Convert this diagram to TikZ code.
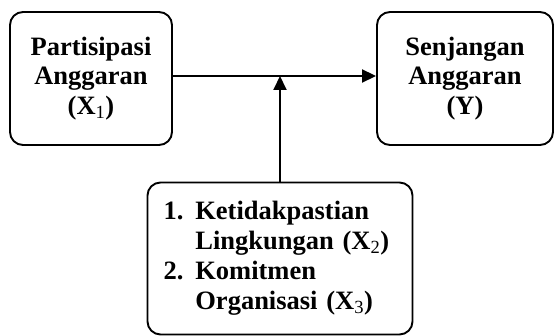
\documentclass[tikz,border=0pt]{standalone}
\usepackage{fontspec}
\setmainfont{Liberation Serif}
\usetikzlibrary{positioning, arrows.meta}

\newcommand{\idx}[1]{\textsubscript{\mdseries #1}}

\begin{document}
\begin{tikzpicture}[
    x=1pt, y=-1pt,
    var/.style={draw=black, line width=1.9pt, rounded corners=13pt, align=center,
        font=\fontsize{26.5}{29.5}\selectfont\bfseries, inner sep=0pt},
    link/.style={line width=1.9pt, -{Triangle[length=14pt, width=13pt]}}
]
\useasboundingbox (0,0) rectangle (555,336);

% --- Variables ---
\node[var, minimum width=162pt, minimum height=133pt] (partisipasi) at (91,78.5)
    {Partisipasi\\Anggaran\\(X\idx{1})};
\node[var, minimum width=176pt, minimum height=133pt] (senjangan) at (465,78.5)
    {Senjangan\\Anggaran\\(Y)};
\node[var, minimum width=265pt, minimum height=152pt, text width=233pt, align=left,
      font=\fontsize{26.5}{30}\selectfont\bfseries] (moderasi) at (280,258.5)
    {\begin{tabular}{@{}l@{\hspace{12pt}}l@{}}
     1. & Ketidakpastian\\
        & Lingkungan (X\idx{2})\\
     2. & Komitmen\\
        & Organisasi (X\idx{3})
     \end{tabular}};

% --- Arrows ---
\draw[link] ([yshift=2.5pt]partisipasi.east) -- ([yshift=2.5pt]senjangan.west);
\draw[link] (moderasi.north) -- (moderasi.north |- {(0,76)});

\end{tikzpicture}
\end{document}
